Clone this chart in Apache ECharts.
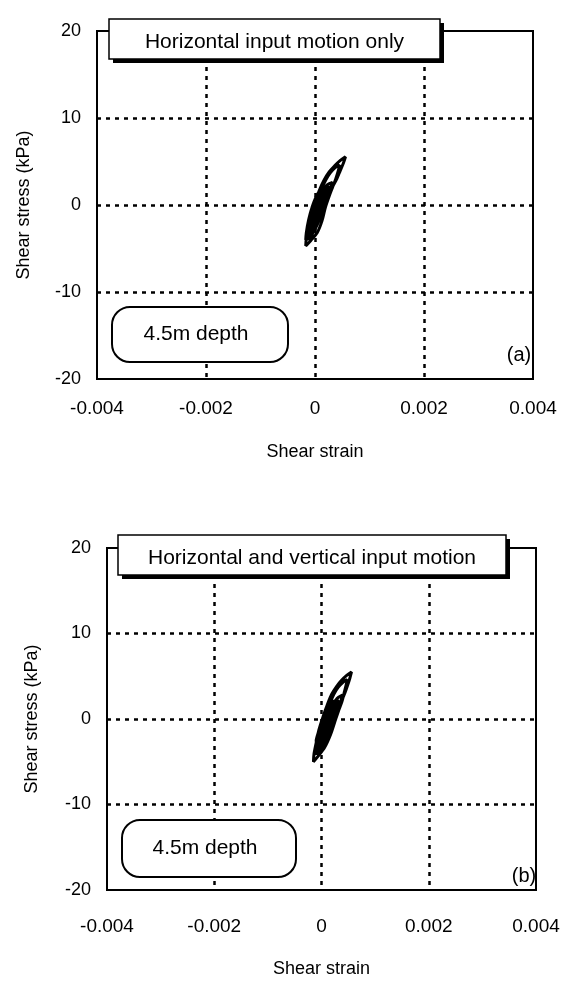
<!DOCTYPE html>
<html>
<head>
<meta charset="utf-8">
<script src="https://cdn.jsdelivr.net/npm/echarts@6/dist/echarts.min.js"></script>
<style>
  html, body { margin: 0; padding: 0; background: #fff; }
  #chart { width: 573px; height: 981px; }
</style>
</head>
<body>
<div id="chart"></div>
<script>
// Tick labels shared by both panels
const xTickLabels = ['-0.004', '-0.002', '0', '0.002', '0.004'];
const yTickLabels = ['-20', '-10', '0', '10', '20'];

const panelTitles = ['Horizontal input motion only', 'Horizontal and vertical input motion'];
const panelTags = ['(a)', '(b)'];
const depthLabel = '4.5m depth';
const xAxisName = 'Shear strain';
const yAxisName = 'Shear stress (kPa)';

// Stress-strain hysteresis trace [shear strain, shear stress (kPa)], horizontal input only
const loopA = [
  [0, 0], [0.00008, 1.0], [0.00014, 1.8],
  [0.00006, 1.4], [-0.00004, 0.0], [-0.0001, -1.4], [-0.00014, -2.6],
  [-0.00008, -2.7], [0.0, -1.8], [0.0001, -0.4], [0.00018, 1.0], [0.00024, 2.2],
  [0.00014, 2.0], [0.00004, 1.0], [-0.00006, -0.4], [-0.00012, -1.8], [-0.00016, -3.2], [-0.00017, -4.0],
  [-0.0001, -3.8], [0.0, -2.8], [0.0001, -1.4], [0.00018, 0.0], [0.00026, 1.4], [0.00033, 2.2],
  [0.0004, 3.0], [0.00046, 3.9], [0.00052, 4.8], [0.00056, 5.55],
  [0.00046, 5.1], [0.00036, 4.5], [0.00026, 3.8], [0.00017, 2.9], [0.00008, 1.7], [0.0, 0.3],
  [-0.00008, -1.2], [-0.00013, -2.6], [-0.00016, -3.8], [-0.00017, -4.7],
  [-0.00008, -4.1], [0.00004, -3.2], [0.00013, -1.8], [0.00019, -0.3], [0.00026, 1.0],
  [0.00032, 2.0], [0.00038, 3.0], [0.00043, 4.0], [0.00045, 4.6],
  [0.00037, 4.3], [0.00028, 3.7], [0.0002, 2.9], [0.0001, 1.6], [0.0, 0.0],
  [-0.00008, -1.5], [-0.00013, -2.8], [-0.00016, -3.9],
  [-0.00009, -3.7], [0.0, -2.8], [0.0001, -1.4], [0.00018, 0.0], [0.00025, 1.3], [0.0003, 2.3], [0.00032, 2.6],
  [0.00022, 2.3], [0.00012, 1.2], [0.00002, -0.2], [-0.00006, -1.5], [-0.00012, -2.8], [-0.00015, -3.6],
  [-0.00008, -3.4], [0.00002, -2.2], [0.00012, -0.6], [0.0002, 0.8], [0.00026, 2.0],
  [0.00016, 1.7], [0.00006, 0.6], [-0.00004, -0.8], [-0.0001, -2.0], [-0.00014, -3.2],
  [-0.00006, -2.9], [0.00004, -1.6], [0.00014, 0.0], [0.0002, 1.2], [0.00022, 1.6],
  [0.00012, 1.0], [0.00002, -0.2], [-0.00008, -1.8], [-0.00012, -2.6],
  [-0.00004, -2.2], [0.00006, -0.8], [0.00014, 0.6], [0.00018, 1.2],
  [0.00008, 0.0], [-0.00002, -1.4], [-0.0001, -2.8], [-0.00013, -3.4],
  [-0.00006, -3.2], [0.00004, -2.0], [0.00012, -0.6], [0.0002, 0.8], [0.00024, 1.6],
  [0.00014, 1.2], [0.00004, 0.0], [-0.00006, -1.2], [-0.00012, -2.4],
  [-0.00004, -2.0], [0.00008, -0.4], [0.00016, 0.6],
  [0.0001, 0.6], [0.0, -0.6], [-0.00008, -1.8],
  [0.0, -1.2], [0.0001, 0.2], [0.00014, 0.8]
];

// Stress-strain hysteresis trace [shear strain, shear stress (kPa)], horizontal + vertical input
const loopB = [
  [0.00005, 0], [0.00013, 1.0], [0.0002, 1.8],
  [0.00012, 1.4], [0.00002, 0.0], [-0.00005, -1.4], [-0.0001, -2.6],
  [-0.00003, -2.7], [0.00006, -1.8], [0.00017, -0.4], [0.00026, 1.0], [0.00031, 2.2],
  [0.00021, 2.0], [0.00011, 1.0], [0.0, -0.4], [-0.00007, -1.8], [-0.00011, -3.2], [-0.00013, -4.1],
  [-0.00006, -3.9], [0.00005, -2.8], [0.00016, -1.4], [0.00025, 0.0], [0.00032, 1.4], [0.00038, 2.2],
  [0.00044, 3.1], [0.00049, 4.0], [0.00053, 4.8], [0.00056, 5.5],
  [0.00047, 5.1], [0.00037, 4.5], [0.00028, 3.8], [0.00019, 2.9], [0.00011, 1.7], [0.00003, 0.3],
  [-0.00005, -1.3], [-0.0001, -2.8], [-0.00014, -4.1], [-0.00015, -5.0],
  [-0.00007, -4.4], [0.00006, -3.3], [0.00017, -1.8], [0.00025, -0.3], [0.00032, 1.0],
  [0.00038, 2.0], [0.00042, 3.0], [0.00046, 4.0], [0.00048, 4.6],
  [0.0004, 4.3], [0.00031, 3.7], [0.00023, 2.9], [0.00014, 1.6], [0.00005, 0.0],
  [-0.00003, -1.5], [-0.00008, -2.8], [-0.00011, -3.9],
  [-0.00004, -3.7], [0.00006, -2.8], [0.00016, -1.4], [0.00025, 0.0], [0.00032, 1.3], [0.00037, 2.3], [0.00039, 2.8],
  [0.00029, 2.4], [0.00018, 1.2], [0.00008, -0.2], [0.0, -1.5], [-0.00006, -2.8], [-0.00009, -3.6],
  [-0.00002, -3.4], [0.00008, -2.2], [0.00018, -0.6], [0.00027, 0.8], [0.00033, 2.0],
  [0.00023, 1.7], [0.00012, 0.6], [0.00002, -0.8], [-0.00004, -2.0], [-0.00008, -3.2],
  [0.0, -2.9], [0.0001, -1.6], [0.0002, 0.0], [0.00027, 1.2], [0.00029, 1.6],
  [0.00019, 1.0], [0.00008, -0.2], [-0.00002, -1.8], [-0.00006, -2.6],
  [0.00002, -2.2], [0.00012, -0.8], [0.0002, 0.6], [0.00025, 1.2],
  [0.00013, 0.0], [0.00003, -1.4], [-0.00005, -2.8], [-0.00008, -3.4],
  [-0.00001, -3.2], [0.00009, -2.0], [0.00017, -0.6], [0.00025, 0.8], [0.00029, 1.6],
  [0.00019, 1.2], [0.00009, 0.0], [-0.00001, -1.2], [-0.00007, -2.4],
  [0.00001, -2.0], [0.00013, -0.4], [0.00021, 0.6],
  [0.00016, 0.6], [0.00006, -0.6], [-0.00002, -1.8],
  [0.00006, -1.2], [0.00016, 0.2], [0.0002, 0.8]
];

const FONT = '"Liberation Sans", Arial, Helvetica, sans-serif';
const chart = echarts.init(document.getElementById('chart'));

const panels = [
  { grid: { left: 97, top: 31, width: 436, height: 348 }, labelGap: 20, xNameGap: 64, yNameGap: 64, yLabelGap: 16 },
  { grid: { left: 107, top: 548, width: 429, height: 342 }, labelGap: 27, xNameGap: 70, yNameGap: 66, yLabelGap: 16 }
];

const dotted = { color: '#000', width: 2.5, type: [4, 5] };

function xAxisFor(p, i) {
  return {
    type: 'value', gridIndex: i, min: -0.004, max: 0.004, interval: 0.002,
    name: xAxisName, nameLocation: 'middle', nameGap: p.xNameGap,
    nameTextStyle: { fontFamily: FONT, fontSize: 18, color: '#000' },
    axisLine: { show: false }, axisTick: { show: false },
    axisLabel: {
      margin: p.labelGap, fontFamily: FONT, fontSize: 19, color: '#000',
      formatter: (v) => xTickLabels[Math.round((v + 0.004) / 0.002)]
    },
    splitLine: { show: true, showMinLine: false, showMaxLine: false, lineStyle: dotted }
  };
}

function yAxisFor(p, i) {
  return {
    type: 'value', gridIndex: i, min: -20, max: 20, interval: 10,
    name: yAxisName, nameLocation: 'middle', nameGap: p.yNameGap, nameRotate: 90,
    nameTextStyle: { fontFamily: FONT, fontSize: 18, color: '#000' },
    axisLine: { show: false }, axisTick: { show: false },
    axisLabel: {
      margin: p.yLabelGap, fontFamily: FONT, fontSize: 18, color: '#000',
      formatter: (v) => yTickLabels[Math.round((v + 20) / 10)]
    },
    splitLine: { show: true, showMinLine: false, showMaxLine: false, lineStyle: dotted }
  };
}

// Shadowed caption box above each panel
function titleBox(x, y, w, h, text) {
  return [
    { type: 'rect', z: 100, shape: { x: x + 4, y: y + 4, width: w, height: h }, style: { fill: '#000' } },
    { type: 'rect', z: 101, shape: { x: x, y: y, width: w, height: h }, style: { fill: '#fff', stroke: '#000', lineWidth: 1.5 } },
    { type: 'text', z: 102, x: x + w / 2, y: y + h / 2 + 3,
      style: { text: text, font: '21px ' + FONT, fill: '#000', align: 'center', verticalAlign: 'middle' } }
  ];
}

// Rounded label box inside each panel
function depthBox(x, y, w, h, text) {
  return [
    { type: 'rect', z: 100, shape: { x: x, y: y, width: w, height: h, r: 18 }, style: { fill: '#fff', stroke: '#000', lineWidth: 2 } },
    { type: 'text', z: 101, x: x + w / 2 - 4, y: y + h / 2,
      style: { text: text, font: '21px ' + FONT, fill: '#000', align: 'center', verticalAlign: 'middle' } }
  ];
}

function tag(x, y, text) {
  return { type: 'text', z: 100, x: x, y: y,
    style: { text: text, font: '20px ' + FONT, fill: '#000', align: 'center', verticalAlign: 'middle' } };
}

chart.setOption({
  animation: false,
  backgroundColor: '#fff',
  grid: panels.map(p => Object.assign({ show: true, borderColor: '#000', borderWidth: 2, backgroundColor: 'transparent' }, p.grid)),
  xAxis: panels.map(xAxisFor),
  yAxis: panels.map(yAxisFor),
  series: [loopA, loopB].map((d, i) => ({
    type: 'line', xAxisIndex: i, yAxisIndex: i, data: d,
    showSymbol: false, smooth: 0.3, z: 5,
    lineStyle: { color: '#000', width: 3 }
  })),
  graphic: [].concat(
    titleBox(109, 19, 331, 40, panelTitles[0]),
    titleBox(118, 535, 388, 40, panelTitles[1]),
    depthBox(112, 307, 176, 55, depthLabel),
    depthBox(122, 820, 174, 57, depthLabel),
    [tag(519, 355, panelTags[0]), tag(524, 876, panelTags[1])]
  )
});
</script>
</body>
</html>
